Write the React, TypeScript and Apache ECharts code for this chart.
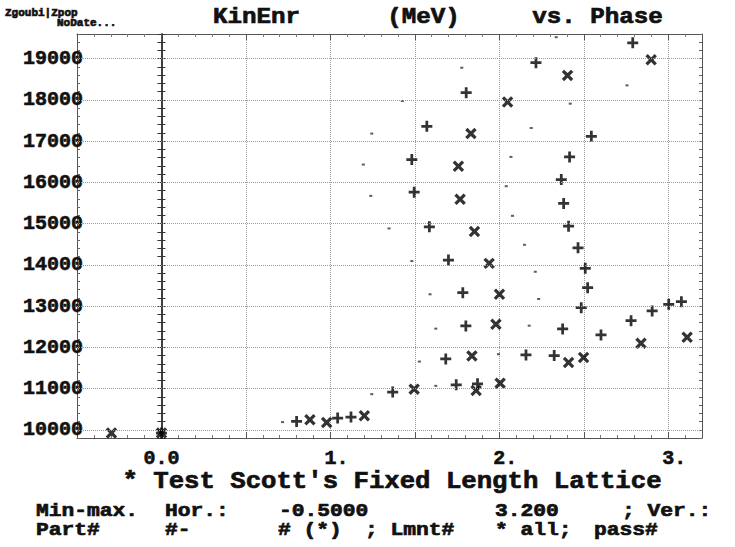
import React, { useEffect, useRef } from 'react';
import * as echarts from 'echarts';

// Phase (x) and kinetic energy in MeV (y)
const plusPoints: [number, number][] = [
  [0.0, 9920], [0.8, 10201], [1.043, 10283], [1.122, 10307], [1.369, 10913],
  [1.683, 11719], [1.745, 11090], [1.871, 11114], [1.802, 12518], [1.784, 13325],
  [1.699, 14116], [1.586, 14923], [1.496, 15763], [1.482, 16554], [1.571, 17361],
  [1.804, 18177], [2.217, 18903], [2.79, 19387], [2.545, 17119], [2.416, 16618],
  [2.367, 16070], [2.381, 15489], [2.41, 14939], [2.466, 14414], [2.509, 13915],
  [2.523, 13446], [2.485, 12962], [2.375, 12446], [2.602, 12300], [2.78, 12647],
  [2.905, 12881], [3.003, 13044], [3.078, 13106], [2.158, 11816], [2.325, 11799],
];

const crossPoints: [number, number][] = [
  [-0.296, 9920], [0.0, 9920], [0.879, 10242], [0.978, 10177], [1.201, 10339],
  [1.496, 10985], [1.838, 11792], [1.863, 10952], [2.005, 11131], [1.98, 12559],
  [2.001, 13286], [1.94, 14036], [1.853, 14810], [1.768, 15593], [1.758, 16392],
  [1.832, 17184], [2.049, 17949], [2.404, 18596], [2.899, 18976], [2.41, 11630],
  [2.499, 11751], [2.839, 12099], [3.112, 12245],
];

const dotPoints: [number, number][] = [
  [0.717, 10186], [1.245, 10864], [1.527, 11654], [1.624, 11065], [1.624, 12453],
  [1.59, 13286], [1.482, 14092], [1.347, 14884], [1.239, 15673], [1.195, 16433],
  [1.245, 17184], [1.426, 17974], [1.778, 18782], [2.337, 19523], [2.756, 18354],
  [2.42, 17910], [2.189, 17320], [2.069, 16618], [2.041, 15908], [2.078, 15189],
  [2.149, 14487], [2.213, 13833], [2.233, 13172], [2.177, 12525], [1.995, 11833],
];

const yGridValues = [10000, 11000, 12000, 13000, 14000, 15000, 16000, 17000, 18000, 19000];
const xMin = -0.5;
const xMax = 3.2;
const yMin = 9800;
const yMax = 19600;

const FONT = '"Liberation Mono", "DejaVu Sans Mono", monospace';
const PLUS = 'path://M3,0H5V3H8V5H5V8H3V5H0V3H3Z';

const xLabel = (v: number) => {
  if (Math.abs(v) < 1e-9) return '0.0';
  if (v > 0 && Math.abs(v - Math.round(v)) < 1e-9) return ` ${Math.round(v)}.`;
  return '';
};

export default function App() {
  const ref = useRef<HTMLDivElement>(null);
  useEffect(() => {
    if (!ref.current) return;
    const chart = echarts.init(ref.current, undefined, { renderer: 'svg' });
    const axisLineStyle = { color: '#555', width: 1 };
    const baseY = {
      type: 'value' as const,
      min: yMin,
      max: yMax,
      interval: 200,
      splitLine: { show: false },
    };
    const textEl = (text: string, x: number, y: number, size: number, align = 'left', scaleX = 1) => ({
      type: 'text',
      x,
      y,
      scaleX,
      style: {
        text,
        fill: '#111',
        stroke: '#111',
        lineWidth: 0.7,
        fontFamily: FONT,
        fontWeight: 'bold',
        fontSize: size,
        textAlign: align,
        textVerticalAlign: 'middle',
        verticalAlign: 'middle',
      },
      silent: true,
    });
    const labelBold = { textBorderColor: '#111', textBorderWidth: 0.6 };

    chart.setOption({
      animation: false,
      backgroundColor: '#fff',
      grid: { left: 77, right: 33, top: 34, bottom: 109, containLabel: false },
      xAxis: [
        {
          type: 'value',
          min: xMin,
          max: xMax,
          interval: 0.5,
          position: 'bottom',
          axisLine: { show: true, onZero: false, lineStyle: axisLineStyle },
          axisTick: { show: true, inside: true, length: 6, lineStyle: { color: '#555' } },
          minorTick: { show: true, splitNumber: 5, length: 3, lineStyle: { color: '#777' } },
          axisLabel: {
            formatter: xLabel,
            fontFamily: FONT,
            fontWeight: 'bold',
            fontSize: 20,
            color: '#111',
            margin: 10,
            ...labelBold,
          },
          splitLine: { show: true, lineStyle: { type: 'dotted', color: '#9a9a9a', width: 1 } },
        },
        {
          type: 'value',
          min: xMin,
          max: xMax,
          interval: 0.5,
          position: 'top',
          axisLine: { show: true, onZero: false, lineStyle: axisLineStyle },
          axisTick: { show: true, inside: true, length: 6, lineStyle: { color: '#555' } },
          minorTick: { show: true, splitNumber: 5, length: 3, lineStyle: { color: '#777' } },
          axisLabel: { show: false },
          splitLine: { show: false },
        },
      ],
      yAxis: [
        {
          ...baseY,
          position: 'left',
          axisLine: { show: true, onZero: false, lineStyle: axisLineStyle },
          axisTick: { show: true, inside: true, length: 3, lineStyle: { color: '#666' } },
          axisLabel: {
            formatter: (v: number) => (v % 1000 === 0 ? String(v) : ''),
            fontFamily: FONT,
            fontWeight: 'bold',
            fontSize: 20,
            color: '#111',
            margin: -6,
            ...labelBold,
          },
        },
        {
          ...baseY,
          position: 'right',
          axisLine: { show: true, onZero: false, lineStyle: axisLineStyle },
          axisTick: { show: true, inside: true, length: 3, lineStyle: { color: '#666' } },
          axisLabel: { show: false },
        },
        {
          ...baseY,
          position: 'left',
          axisLine: { show: true, onZero: true, onZeroAxisIndex: 0, lineStyle: { color: '#333', width: 1.5 } },
          axisTick: { show: true, inside: true, length: 4, lineStyle: { color: '#333' } },
          axisLabel: { show: false },
        },
        {
          ...baseY,
          position: 'left',
          axisLine: { show: true, onZero: true, onZeroAxisIndex: 0, lineStyle: { color: '#333', width: 1.5 } },
          axisTick: { show: true, inside: false, length: 4, lineStyle: { color: '#333' } },
          axisLabel: { show: false },
        },
      ],
      series: [
        {
          type: 'scatter',
          name: 'dots',
          data: dotPoints,
          symbol: 'rect',
          symbolSize: [3, 2],
          itemStyle: { color: '#333' },
          silent: true,
          markLine: {
            silent: true,
            symbol: 'none',
            label: { show: false },
            lineStyle: { type: 'dotted', color: '#9a9a9a', width: 1 },
            data: yGridValues.map((v) => ({ yAxis: v })),
          },
          z: 3,
        },
        {
          type: 'scatter',
          name: 'plus',
          data: plusPoints,
          symbol: PLUS,
          symbolSize: 11,
          itemStyle: { color: '#000' },
          silent: true,
          z: 4,
        },
        {
          type: 'scatter',
          name: 'cross',
          data: crossPoints,
          symbol: PLUS,
          symbolSize: 13,
          symbolRotate: 45,
          itemStyle: { color: '#000' },
          silent: true,
          z: 4,
        },
      ],
      graphic: [
        textEl('Zgoubi|Zpop', 5, 13, 11),
        textEl('NoDate...', 57, 23, 11),
        textEl('KinEnr      (MeV)     vs. Phase', 213, 17, 22, 'left', 1.1),
        textEl("* Test Scott's Fixed Length Lattice", 392, 481, 24, 'center', 1.07),
        textEl('Min-max.', 36, 511, 19, 'left', 1.12),
        textEl('Hor.:', 165, 511, 19, 'left', 1.12),
        textEl('-0.5000', 279, 511, 19, 'left', 1.12),
        textEl('3.200', 495, 511, 19, 'left', 1.12),
        textEl('; Ver.:', 622, 511, 19, 'left', 1.12),
        textEl('Part#', 36, 530, 19, 'left', 1.12),
        textEl('#-', 165, 530, 19, 'left', 1.12),
        textEl('# (*)', 278, 530, 19, 'left', 1.12),
        textEl('; Lmnt#', 365, 530, 19, 'left', 1.12),
        textEl('* all;', 495, 530, 19, 'left', 1.12),
        textEl('pass#', 594, 530, 19, 'left', 1.12),
      ],
    });
    return () => chart.dispose();
  }, []);
  return (
    <div
      ref={ref}
      style={{ position: 'fixed', left: 0, top: 0, width: 735, height: 547, background: '#fff' }}
    />
  );
}
